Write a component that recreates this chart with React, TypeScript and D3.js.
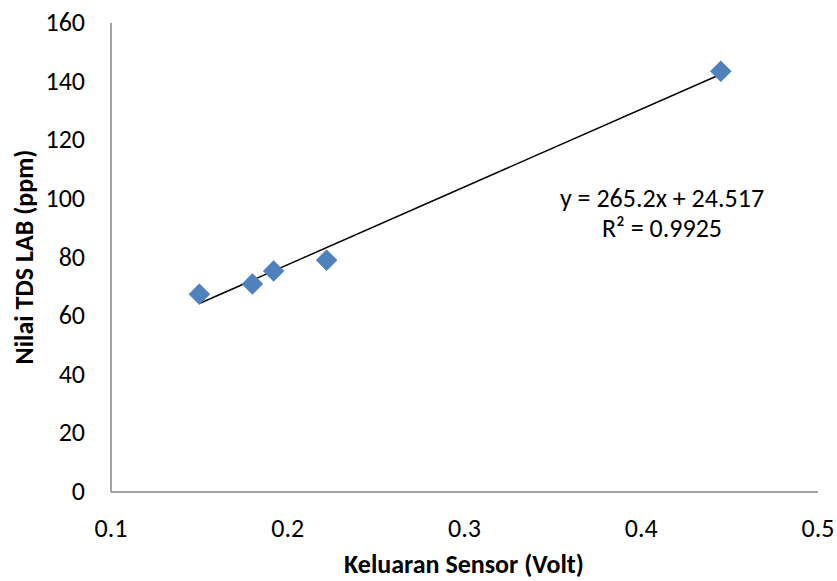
import React from "react";
import * as d3 from "d3";

const xValues = [0.15, 0.18, 0.192, 0.222, 0.445];
const yValues = [67.5, 71.0, 75.4, 79.1, 143.5];
const xTicks = [0.1, 0.2, 0.3, 0.4, 0.5];
const yTicks = [0, 20, 40, 60, 80, 100, 120, 140, 160];
const slope = 265.2;
const intercept = 24.517;
const eqLabel = "y = 265.2x + 24.517";
const r2Label = "R² = 0.9925";
const xTitle = "Keluaran Sensor (Volt)";
const yTitle = "Nilai TDS LAB (ppm)";

export default function App() {
  const W = 837, H = 581;
  const left = 111, right = 818, top = 23, bottom = 492;
  const x = d3.scaleLinear().domain([0.1, 0.5]).range([left, right]);
  const y = d3.scaleLinear().domain([0, 160]).range([bottom, top]);
  const font = "Carlito, 'Open Sans', 'Liberation Sans', sans-serif";
  const xMin = d3.min(xValues)!, xMax = d3.max(xValues)!;
  const line = d3.line<number>().x((d) => x(d)).y((d) => y(slope * d + intercept));
  const s = 10.5;
  const fs = 26;
  return (
    <svg width={W} height={H} style={{ position: "absolute", left: 0, top: 0, background: "#fff" }} fontFamily={font}>
      <line x1={left} x2={left} y1={top} y2={bottom} stroke="#868686" strokeWidth={1.5} />
      <line x1={left} x2={right} y1={bottom} y2={bottom} stroke="#868686" strokeWidth={1.5} />
      {yTicks.map((t) => (
        <text key={t} x={85} y={y(t) + 8} textAnchor="end" fontSize={fs} fill="#000">{t}</text>
      ))}
      {xTicks.map((t) => (
        <text key={t} x={x(t)} y={537} textAnchor="middle" fontSize={fs} fill="#000">{t}</text>
      ))}
      <path d={line([xMin, xMax]) || ""} stroke="#000" strokeWidth={1.5} fill="none" />
      {xValues.map((v, i) => (
        <path key={i} d={`M${x(v)},${y(yValues[i]) - s}L${x(v) + s},${y(yValues[i])}L${x(v)},${y(yValues[i]) + s}L${x(v) - s},${y(yValues[i])}Z`} fill="#4F81BD" stroke="#4A7EBB" strokeWidth={0.5} />
      ))}
      <text x={662} y={207} textAnchor="middle" fontSize={fs} fill="#000">{eqLabel}</text>
      <text x={662} y={237} textAnchor="middle" fontSize={fs} fill="#000">{r2Label}</text>
      <text x={464} y={573} textAnchor="middle" fontSize={fs} fontWeight="bold" fill="#000">{xTitle}</text>
      <text transform={`translate(33,257) rotate(-90)`} textAnchor="middle" fontSize={fs} fontWeight="bold" fill="#000">{yTitle}</text>
    </svg>
  );
}
